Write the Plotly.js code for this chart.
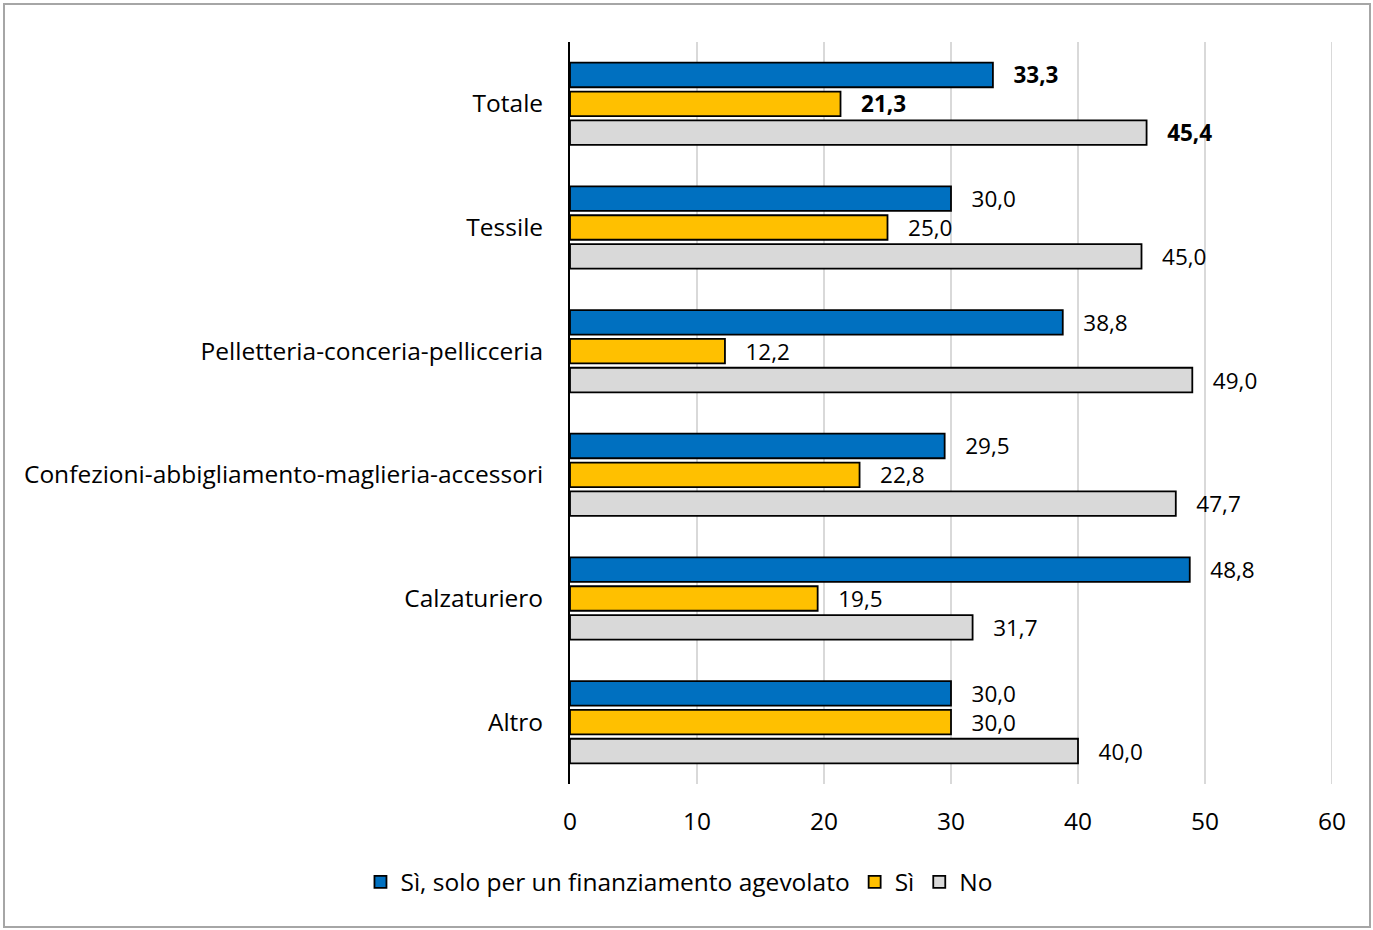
<!DOCTYPE html>
<html><head><meta charset="utf-8">
<script src="https://cdn.plot.ly/plotly-3.0.1.min.js"></script>
<style>
body{margin:0;background:#fff;}
#chart{width:1373px;height:930px;position:absolute;left:0;top:0;}
#frame{position:absolute;left:3px;top:3px;width:1364px;height:921px;border:2px solid #A6A6A6;pointer-events:none;}
</style></head>
<body>
<div id="chart"></div>
<div id="frame"></div>
<script>
const categories = ["Totale","Tessile","Pelletteria-conceria-pellicceria","Confezioni-abbigliamento-maglieria-accessori","Calzaturiero","Altro"];
const seriesNames = ["Sì, solo per un finanziamento agevolato","Sì","No"];
const siSolo = [33.3, 30.0, 38.8, 29.5, 48.8, 30.0];
const si = [21.3, 25.0, 12.2, 22.8, 19.5, 30.0];
const no = [45.4, 45.0, 49.0, 47.7, 31.7, 40.0];
const colors = ["#0070C0","#FFC000","#D9D9D9"];
const xTicks = [0,10,20,30,40,50,60];

const FONT = "'Open Sans', sans-serif";
const FS = 24.5;
function labels(vals){
  return vals.map((v,i)=>{
    const s = v.toFixed(1).replace('.',',');
    return '\u00a0\u00a0\u00a0' + (i===0 ? '<b>'+s+'</b>' : s);
  });
}
const data = [siSolo, si, no].map((vals,k)=>({
  type:'bar', orientation:'h', name:seriesNames[k],
  y:categories, x:vals,
  text:labels(vals), textposition:'outside', constraintext:'none', cliponaxis:false,
  outsidetextfont:{family:FONT,size:22.5,color:'#000'},
  marker:{color:colors[k], line:{color:'#000',width:1.8}},
  hoverinfo:'x+y'
}));
const xMax = xTicks[xTicks.length-1];
const layout = {
  width:1373, height:930,
  margin:{l:570,r:41,t:42,b:146},
  paper_bgcolor:'#fff', plot_bgcolor:'#fff',
  barmode:'group', bargap:0.3, bargroupgap:0.15,
  font:{family:FONT,size:FS,color:'#000'},
  xaxis:{range:[0,xMax], tickvals:xTicks, ticktext:xTicks.map(String), showgrid:true, gridcolor:'#D9D9D9', gridwidth:2,
    zeroline:false, showline:false, ticks:'', ticklabelstandoff:20, tickfont:{family:FONT,size:FS,color:'#000'}},
  yaxis:{autorange:'reversed', showline:true, linecolor:'#000', linewidth:2, ticks:'', showgrid:false,
    ticklabelstandoff:20, tickfont:{family:FONT,size:FS,color:'#000'}},
  shapes:[{type:'line', xref:'x', yref:'paper', x0:xMax, x1:xMax, y0:0, y1:1, layer:'below', line:{color:'#D9D9D9', width:2}}],
  showlegend:true,
  legend:{orientation:'h', x:0.143, xanchor:'center', y:-0.132, yanchor:'middle',
    font:{family:FONT,size:FS,color:'#000'}, traceorder:'normal', itemwidth:30},
};
Plotly.newPlot('chart', data, layout, {displayModeBar:false, staticPlot:true});
</script>
</body></html>
